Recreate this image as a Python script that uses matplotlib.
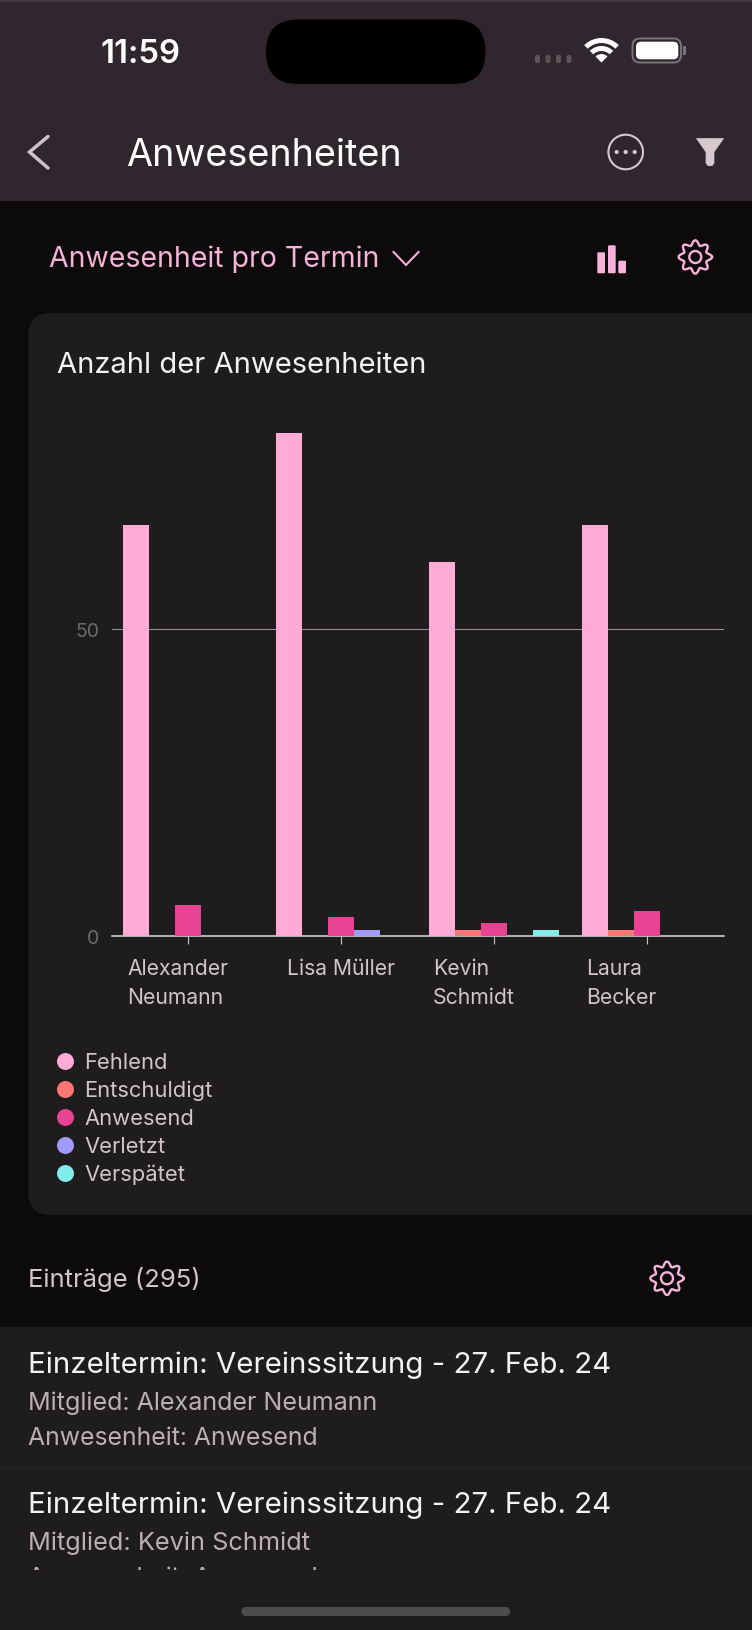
#!/usr/bin/env python3

import numpy as np
import matplotlib
matplotlib.use("Agg")
import matplotlib.pyplot as plt
from matplotlib.font_manager import FontProperties
from matplotlib.lines import Line2D
from matplotlib.patches import Circle, FancyBboxPatch, Polygon, Rectangle, Wedge
from matplotlib.text import TextPath
from matplotlib.transforms import Bbox, ScaledTranslation, TransformedBbox

WIDTH, HEIGHT = 752, 1630
DPI = 100

members = ["Alexander\nNeumann", "Lisa Müller", "Kevin\nSchmidt", "Laura\nBecker"]
statuses = ["Fehlend", "Entschuldigt", "Anwesend", "Verletzt", "Verspätet"]
fehlend = [67, 82, 61, 67]
entschuldigt = [0, 0, 1, 1]
anwesend = [5, 3, 2, 4]
verletzt = [0, 1, 0, 0]
verspaetet = [0, 0, 1, 0]
y_ticks = [0, 50]
status_colors = ["#ffabd6", "#ff7675", "#e84393", "#a29bfe", "#81ecec"]

HEADER = "#2f272d"
BODY = "#0d0a0b"
CARD = "#1f1c1d"
PINK = "#f6b2d8"
SOFT = "#cfc5ca"
MUTED = "#bcafb5"

plt.rcParams["font.family"] = ["Inter", "DejaVu Sans"]

fig = plt.figure(figsize=(WIDTH / DPI, HEIGHT / DPI), dpi=DPI, facecolor=BODY)

# everything around the chart is drawn in pixel coordinates
ui = fig.add_axes([0, 0, 1, 1], zorder=0)
ui.set_xlim(0, WIDTH)
ui.set_ylim(HEIGHT, 0)
ui.axis("off")


def fit_size(text, width, weight="normal"):
    # font size in points so the string comes out at the measured pixel width
    prop = FontProperties(family="Inter", weight=weight)
    unit = TextPath((0, 0), text, size=1, prop=prop).get_extents().width
    return width / unit * 72 / DPI


def label(x, baseline, text, width, color, weight="normal", **kwargs):
    # text lands a bit right of x after bearing and rounding, hence the -1.2
    return ui.text(x - 1.2, baseline, text, fontsize=fit_size(text, width, weight), color=color,
                   weight=weight, va="baseline", ha="left", **kwargs)


def gear(cx, cy):
    theta = np.linspace(0, 2 * np.pi, 241)
    r = 14.3 + 2.4 * np.cos(8 * theta)
    ui.plot(cx + r * np.cos(theta), cy + r * np.sin(theta), color=PINK, lw=1.7)
    ui.add_patch(Circle((cx, cy), 6, fill=False, ec=PINK, lw=1.7))


# panels
ui.add_patch(Rectangle((0, 0), WIDTH, 201, color=HEADER, lw=0))
ui.add_patch(Rectangle((0, 0), WIDTH, 1.5, color="#3f383d", lw=0))
ui.add_patch(FancyBboxPatch((28.5, 313), 760, 902, boxstyle="round,pad=0,rounding_size=22",
                            fc=CARD, ec="none"))
ui.add_patch(Rectangle((0, 1327), WIDTH, HEIGHT - 1327, color=CARD, lw=0))
ui.plot([0, WIDTH], [1467, 1467], color="#2a2729", lw=0.8)
ui.add_patch(FancyBboxPatch((241.5, 1607), 268.5, 9, boxstyle="round,pad=0,rounding_size=4.5",
                            fc="#4e4c4e", ec="none"))

# status bar
label(102, 62.8, "11:59", 77, "white", weight="semibold")
ui.add_patch(FancyBboxPatch((266, 19.5), 219.5, 64.5, boxstyle="round,pad=0,rounding_size=32",
                            fc="black", ec="none"))
for x in [537.5, 548, 558.5, 569]:
    ui.add_patch(FancyBboxPatch((x - 2.5, 55), 5, 8, boxstyle="round,pad=0,rounding_size=2",
                                fc="#5b5558", ec="none"))
for r_out, r_in in [(24.5, 19.5), (16.5, 11.5)]:
    ui.add_patch(Wedge((601.5, 62.5), r_out, 225, 315, width=r_out - r_in, fc="white", ec="none"))
ui.add_patch(Wedge((601.5, 62.5), 8.5, 225, 315, fc="white", ec="none"))
ui.add_patch(FancyBboxPatch((632.5, 38.5), 48.5, 24, boxstyle="round,pad=0,rounding_size=7.5",
                            fc="none", ec="#7a7478", lw=1.4))
ui.add_patch(FancyBboxPatch((636, 41.7), 42.3, 17.6, boxstyle="round,pad=0,rounding_size=5",
                            fc="white", ec="none"))
ui.add_patch(Rectangle((683, 46), 3, 9, color="#7a7478", lw=0))

# navigation bar
ui.plot([48, 29.5, 48], [136.5, 152, 168], color="#cfc1c7", lw=2.5, solid_capstyle="round",
        solid_joinstyle="miter")
label(127.5, 165.7, "Anwesenheiten", 272.5, "white")
ui.add_patch(Circle((625.7, 152), 17.3, fill=False, ec="#d8c8cf", lw=1.5))
for dx in [-9, 0, 9]:
    ui.add_patch(Circle((625.7 + dx, 152), 2.1, fc="#d8c8cf", ec="none"))
ui.add_patch(Polygon([(696.5, 138.5), (723.5, 138.5), (714, 152), (714, 163), (712, 165.7), (708, 165.7),
                      (706, 163), (706, 152)], closed=True, fc="#d8c8cf", ec="#d8c8cf", lw=0.5))

# selector row
label(50, 266.7, "Anwesenheit pro Termin", 327, PINK)
ui.plot([393.5, 406, 418.5], [252, 265, 252], color=PINK, lw=1.5, solid_joinstyle="miter")
for left, top in [(597.3, 252.3), (608, 245.3), (618.3, 260.7)]:
    ui.add_patch(FancyBboxPatch((left, top), 7.7, 273.3 - top, boxstyle="round,pad=0,rounding_size=1.2",
                                fc=PINK, ec="none"))
gear(695.3, 257)

# card title and list below the chart
label(58.3, 373.2, "Anzahl der Anwesenheiten", 367, "#f4f2f3")
label(29, 1286.7, "Einträge (295)", 168, SOFT)
gear(667, 1278.3)

label(29.7, 1373, "Einzeltermin: Vereinssitzung - 27. Feb. 24", 580, "#f4f2f3")
label(29, 1410, "Mitglied: Alexander Neumann", 346, MUTED)
label(29, 1445, "Anwesenheit: Anwesend", 287, MUTED)
label(29.7, 1513, "Einzeltermin: Vereinssitzung - 27. Feb. 24", 580, "#f4f2f3")
label(29, 1550, "Mitglied: Kevin Schmidt", 279, MUTED)
cut = label(29, 1585, "Anwesenheit: Anwesend", 287, MUTED)
cut.set_clip_box(TransformedBbox(Bbox([[0, 1500], [WIDTH, 1570]]), ui.transData))
cut.set_clip_on(True)

# the chart itself
AX_LEFT, AX_RIGHT, AX_BOTTOM = 111.5, 723.5, 935.7
PX_PER_UNIT = 6.128
Y_MAX = 85
ax_top = AX_BOTTOM - Y_MAX * PX_PER_UNIT
ax = fig.add_axes([AX_LEFT / WIDTH, 1 - AX_BOTTOM / HEIGHT, (AX_RIGHT - AX_LEFT) / WIDTH,
                   (AX_BOTTOM - ax_top) / HEIGHT], zorder=1)
ax.patch.set_alpha(0)

series = [fehlend, entschuldigt, anwesend, verletzt, verspaetet]
positions = np.arange(len(members))
bar_width = 26 / 153
for i, (values, color) in enumerate(zip(series, status_colors)):
    ax.bar(positions + (i - 2) * bar_width, values, bar_width, color=color, lw=0, zorder=3)

ax.set_xlim(-0.5, len(members) - 0.5)
ax.set_ylim(0, Y_MAX)
ax.set_yticks(y_ticks)
ax.set_xticks(positions, members)
ax.set_axisbelow(True)
ax.grid(axis="y", color="#9a8f95", lw=0.75)
ax.grid(axis="x", visible=False)
for side in ["top", "right", "left"]:
    ax.spines[side].set_visible(False)
ax.spines["bottom"].set_color("#e0dce0")
ax.spines["bottom"].set_linewidth(1.1)
ax.tick_params(axis="y", length=0, pad=8.6, labelsize=14, labelcolor="#6e6a6c")
ax.tick_params(axis="x", length=5.8, width=0.8, color=SOFT, pad=11, labelsize=15.2, labelcolor=SOFT)

for tick_label in ax.get_yticklabels():
    tick_label.set_transform(tick_label.get_transform()
                             + ScaledTranslation(0, -1 / DPI, fig.dpi_scale_trans))

# names sit left aligned inside their band, not centred on the tick
label_shift = [-61, -53.7, -61, -60.6]
for tick_label, shift in zip(ax.get_xticklabels(), label_shift):
    tick_label.set_ha("left")
    tick_label.set_va("top")
    tick_label.set_linespacing(1.55)
    tick_label.set_transform(tick_label.get_transform()
                             + ScaledTranslation(shift / DPI, 0, fig.dpi_scale_trans))

handles = [Line2D([], [], ls="none", marker="o", ms=12.2, mew=0, color=c) for c in status_colors]
ax.legend(handles, statuses, loc="upper left", frameon=False, fontsize=15.8, labelcolor=SOFT,
          bbox_to_anchor=(53.7 / WIDTH, 1 - 1052.7 / HEIGHT), bbox_transform=fig.transFigure,
          borderpad=0, borderaxespad=0, handlelength=1.0, handletextpad=0.4, labelspacing=0.355)

fig.savefig("out.png", dpi=DPI, facecolor=fig.get_facecolor())
